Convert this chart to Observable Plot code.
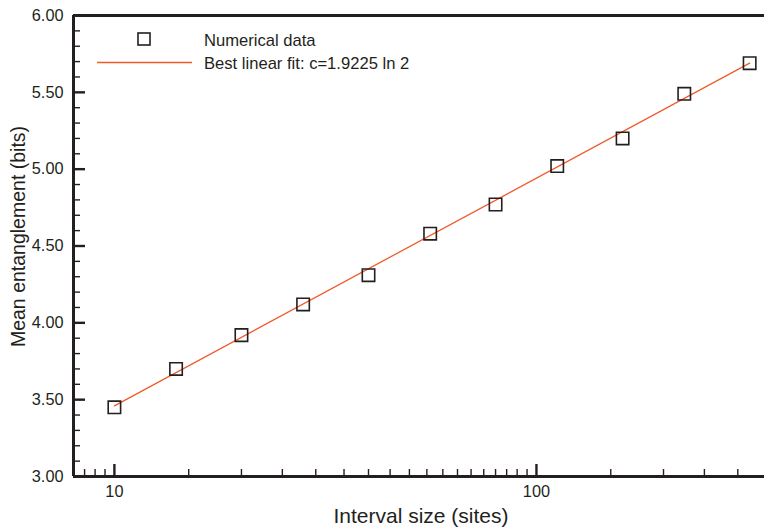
<!DOCTYPE html>
<html><head><meta charset="utf-8">
<script src="https://cdn.jsdelivr.net/npm/d3@7"></script>
<script src="https://cdn.jsdelivr.net/npm/@observablehq/plot@0.6"></script>
<style>
body{margin:0;background:#fff;}
#wrap{position:relative;width:764px;height:529px;font-family:"Liberation Sans",Arial,Helvetica,sans-serif;color:#231f20;}
#legend{position:absolute;left:0;top:0;width:764px;height:100px;pointer-events:none;}
.lt{position:absolute;font-size:16.6px;line-height:17px;white-space:nowrap;}
</style></head><body><div id="wrap"></div>
<script>
// Data
const sizes = [10, 14, 20, 28, 40, 56, 80, 112, 160, 224, 320];
const entanglement = [3.45, 3.70, 3.92, 4.12, 4.31, 4.58, 4.77, 5.02, 5.20, 5.49, 5.69];
const fitSizes = [10, 320];
const fitValues = [3.46, 5.69];

// Ticks
const xMajorTicks = [10, 100];
const xMinorTicks = [8.5, 9, 9.5, 15, 20, 25, 30, 35, 40, 45, 50, 55, 60, 65, 70, 75, 80, 85, 90, 95, 150, 200, 250, 300];
const yMajorTicks = [3.0, 3.5, 4.0, 4.5, 5.0, 5.5, 6.0];
const yMinorTicks = [3.1, 3.2, 3.3, 3.4, 3.6, 3.7, 3.8, 3.9, 4.1, 4.2, 4.3, 4.4, 4.6, 4.7, 4.8, 4.9, 5.1, 5.2, 5.3, 5.4, 5.6, 5.7, 5.8, 5.9];

const legendLabels = ["Numerical data", "Best linear fit: c=1.9225 ln 2"];
const xTitle = "Interval size (sites)";
const yTitle = "Mean entanglement (bits)";

const points = sizes.map((s, i) => ({size: s, value: entanglement[i]}));
const fit = fitSizes.map((s, i) => ({size: s, value: fitValues[i]}));

const ink = "#231f20";
const fitColor = "#f15a2b";

const chart = Plot.plot({
  width: 764,
  height: 529,
  marginLeft: 73,
  marginTop: 15,
  marginBottom: 53,
  marginRight: 0,
  style: {fontFamily: '"Liberation Sans", Arial, Helvetica, sans-serif', fontSize: "16px", color: ink, background: "#fff"},
  x: {type: "log", domain: [8, 347], axis: null},
  y: {domain: [3, 6], axis: null},
  marks: [
    // minor & major ticks pointing inward
    Plot.axisY(yMinorTicks, {anchor: "left", tickSize: 7, dx: 7, fill: "none", stroke: ink, strokeWidth: 1.4, label: null}),
    Plot.axisY(yMajorTicks, {anchor: "left", tickSize: 12, dx: 12, fill: "none", stroke: ink, strokeWidth: 2.4, label: null}),
    Plot.axisX(xMinorTicks, {anchor: "bottom", tickSize: 7, dy: -7, fill: "none", stroke: ink, strokeWidth: 1.4, label: null}),
    Plot.axisX(xMajorTicks, {anchor: "bottom", tickSize: 12, dy: -12, fill: "none", stroke: ink, strokeWidth: 2.4, label: null}),
    // tick labels
    Plot.axisY(yMajorTicks, {anchor: "left", tickSize: 0, tickPadding: 10, tickFormat: d => d.toFixed(2), fontSize: 16.3, fill: ink, label: null}),
    Plot.axisX(xMajorTicks, {anchor: "bottom", tickSize: 0, tickPadding: 9, tickFormat: d => String(d), fontSize: 16.3, fill: ink, label: null}),
    // frame (left, top, bottom)
    Plot.ruleX([8], {stroke: ink, strokeWidth: 3}),
    Plot.ruleY([3, 6], {stroke: ink, strokeWidth: 3}),
    // fit line and data
    Plot.line(fit, {x: "size", y: "value", stroke: fitColor, strokeWidth: 1.3}),
    Plot.dot(points, {x: "size", y: "value", symbol: "square", r: 7, stroke: ink, strokeWidth: 1.6, fill: "none"}),
    // axis titles
    Plot.text([xTitle], {text: d => d, frameAnchor: "bottom", textAnchor: "middle", lineAnchor: "middle", dx: 2, dy: 40, fontSize: 21, fill: ink}),
    Plot.text([yTitle], {text: d => d, frameAnchor: "left", textAnchor: "middle", lineAnchor: "middle", dx: -55, dy: -9.5, rotate: -90, fontSize: 19.5, fill: ink})
  ]
});

const wrap = document.getElementById("wrap");
wrap.appendChild(chart);

// Legend overlay
const legend = document.createElement("div");
legend.id = "legend";
legend.innerHTML = `
<svg width="764" height="100" style="position:absolute;left:0;top:0">
  <rect x="138" y="33" width="12" height="12" fill="none" stroke="${ink}" stroke-width="1.6"/>
  <line x1="97" y1="62.5" x2="192" y2="62.5" stroke="${fitColor}" stroke-width="1.3"/>
</svg>
<div class="lt" style="left:204px;top:31.5px">${legendLabels[0]}</div>
<div class="lt" style="left:204px;top:54.5px">${legendLabels[1]}</div>`;
wrap.appendChild(legend);
</script>
</body></html>
